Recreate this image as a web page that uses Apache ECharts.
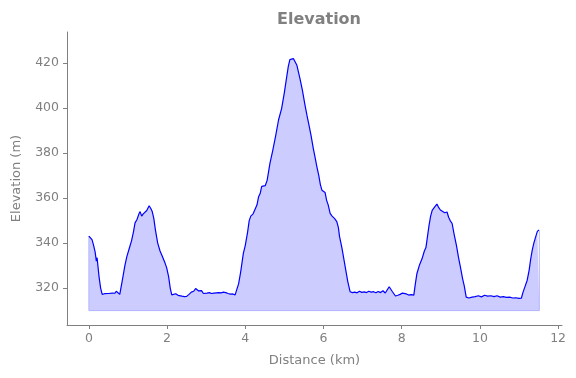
<!DOCTYPE html>
<html>
<head>
    <meta charset="UTF-8">
    <title>Elevation</title>
    <script src="https://cdn.jsdelivr.net/npm/echarts@6/dist/echarts.min.js"></script>
</head>
<body style="margin:0">
<div id="main" style="width:576px;height:378px;"></div>
<script type="text/javascript">
    // distance along the track (km)
    var distances = [0.00, 0.04, 0.08, 0.12, 0.16, 0.19, 0.21, 0.23, 0.26, 0.30, 0.34, 0.40, 0.45, 0.50, 0.55, 0.60, 0.66, 0.70, 0.74, 0.79,
        0.85, 0.92, 0.97, 1.03, 1.09, 1.14, 1.18, 1.23, 1.28, 1.31, 1.35, 1.39, 1.43, 1.48, 1.54, 1.58, 1.62, 1.66, 1.70, 1.76,
        1.82, 1.88, 1.95, 1.99, 2.04, 2.08, 2.12, 2.17, 2.22, 2.28, 2.33, 2.38, 2.44, 2.50, 2.56, 2.62, 2.68, 2.73, 2.76, 2.80,
        2.84, 2.88, 2.93, 2.97, 3.02, 3.08, 3.14, 3.20, 3.26, 3.32, 3.38, 3.44, 3.50, 3.56, 3.62, 3.68, 3.74, 3.78, 3.83, 3.88,
        3.95, 4.00, 4.06, 4.10, 4.14, 4.20, 4.25, 4.30, 4.34, 4.38, 4.42, 4.46, 4.51, 4.56, 4.63, 4.70, 4.78, 4.85, 4.93, 5.00,
        5.06, 5.10, 5.14, 5.19, 5.23, 5.28, 5.32, 5.36, 5.40, 5.46, 5.52, 5.58, 5.62, 5.68, 5.74, 5.78, 5.83, 5.88, 5.92, 5.96,
        6.00, 6.04, 6.08, 6.12, 6.17, 6.22, 6.28, 6.34, 6.38, 6.41, 6.43, 6.47, 6.52, 6.57, 6.62, 6.68, 6.74, 6.80, 6.86, 6.92,
        6.98, 7.04, 7.10, 7.16, 7.22, 7.28, 7.34, 7.40, 7.46, 7.52, 7.58, 7.64, 7.68, 7.72, 7.76, 7.80, 7.84, 7.90, 7.96, 8.02,
        8.06, 8.12, 8.18, 8.24, 8.31, 8.35, 8.39, 8.45, 8.52, 8.58, 8.62, 8.66, 8.70, 8.74, 8.78, 8.84, 8.90, 8.94, 8.99, 9.04,
        9.10, 9.16, 9.20, 9.24, 9.29, 9.34, 9.40, 9.46, 9.50, 9.56, 9.60, 9.65, 9.72, 9.80, 9.88, 9.96, 10.04, 10.12, 10.20, 10.28,
        10.36, 10.44, 10.52, 10.60, 10.68, 10.76, 10.84, 10.92, 11.00, 11.06, 11.10, 11.16, 11.21, 11.26, 11.30, 11.34, 11.38, 11.43, 11.47, 11.51,
        11.52];
    // elevation (m)
    var elevations = [343.1, 343.3, 341.5, 339.0, 336.0, 332.0, 333.5, 330.0, 325.0, 320.0, 317.2, 317.5, 317.8, 317.6, 318.0, 317.8, 317.7, 318.6, 317.9, 317.2,
        323.0, 330.0, 334.0, 337.5, 341.0, 345.0, 349.0, 350.5, 353.0, 354.0, 352.0, 353.0, 353.6, 354.5, 356.6, 355.5, 354.0, 351.0, 346.0, 340.0,
        336.5, 334.0, 331.0, 329.0, 325.0, 320.0, 317.0, 317.3, 317.5, 316.8, 317.2, 316.4, 316.2, 316.3, 317.2, 318.2, 318.6, 319.8, 320.0, 318.8,
        318.0, 318.9, 317.6, 318.3, 317.8, 318.0, 317.6, 317.8, 317.9, 318.0, 317.9, 318.2, 318.0, 317.6, 317.3, 317.4, 317.0, 317.5, 322.0, 327.0,
        335.4, 339.0, 345.0, 350.0, 352.0, 353.0, 353.5, 357.0, 360.6, 362.0, 365.2, 364.8, 365.5, 368.0, 375.4, 381.0, 388.0, 394.7, 399.9, 407.0,
        414.0, 418.5, 421.5, 422.3, 422.0, 421.3, 419.0, 416.0, 413.0, 408.0, 402.0, 396.5, 393.2, 388.0, 382.0, 378.5, 374.0, 370.0, 366.0, 363.5,
        364.3, 362.5, 359.0, 357.0, 353.2, 352.0, 351.0, 349.5, 347.0, 343.0, 341.3, 338.0, 333.0, 328.0, 323.0, 318.4, 318.0, 318.2, 317.9, 318.6,
        318.1, 318.3, 318.0, 318.6, 318.2, 318.4, 317.9, 318.5, 318.0, 318.8, 317.8, 319.5, 320.6, 320.0, 318.5, 319.0, 316.5, 316.8, 317.2, 317.8,
        317.2, 317.4, 316.9, 317.1, 316.9, 322.0, 326.5, 330.0, 333.0, 336.5, 338.0, 343.0, 348.0, 352.0, 354.5, 356.0, 357.3, 356.0, 354.7, 354.3,
        353.5, 353.8, 351.5, 350.0, 348.7, 344.0, 339.0, 333.0, 329.5, 324.0, 321.0, 316.0, 315.6, 316.0, 316.2, 316.6, 316.1, 316.8, 316.4, 316.6,
        316.2, 316.6, 316.0, 316.2, 315.9, 316.0, 315.6, 315.7, 315.4, 315.5, 318.0, 321.0, 323.5, 328.0, 333.0, 337.0, 340.0, 343.0, 345.2, 345.8,
        345.6];
    var baseElevation = 310;
    var xTicks = [0, 2, 4, 6, 8, 10, 12];
    var yTicks = [320, 340, 360, 380, 400, 420];

    var lineData = [];
    for (var i = 0; i < distances.length; i++) {
        lineData.push([distances[i], elevations[i]]);
    }
    var last = distances.length - 1;
    // outline of the filled region (left edge, floor, right edge)
    var edgeData = [
        [distances[0], elevations[0]],
        [distances[0], baseElevation],
        [distances[last], baseElevation],
        [distances[last], elevations[last]]
    ];

    var grey = '#808080';
    var myChart = echarts.init(document.getElementById('main'));
    var option = {
        animation: false,
        title: {
            text: 'Elevation',
            left: 314,
            top: 7,
            textAlign: 'center',
            textStyle: {color: grey, fontSize: 16, fontWeight: 'bold', fontFamily: 'DejaVu Sans'}
        },
        grid: {left: 67, right: 14, top: 32, bottom: 53},
        xAxis: {
            type: 'value',
            min: -0.56,
            max: 12.1,
            name: 'Distance (km)',
            nameLocation: 'middle',
            nameGap: 29,
            nameTextStyle: {color: grey, fontSize: 13, fontFamily: 'DejaVu Sans'},
            axisLine: {onZero: false, lineStyle: {color: grey, width: 1}},
            axisTick: {customValues: xTicks, length: 4, lineStyle: {color: grey}},
            axisLabel: {customValues: xTicks, color: grey, fontSize: 12.5, margin: 7, fontFamily: 'DejaVu Sans'},
            splitLine: {show: false}
        },
        yAxis: {
            type: 'value',
            min: 303.6,
            max: 433.8,
            name: 'Elevation (m)',
            nameLocation: 'middle',
            nameGap: 44,
            nameTextStyle: {color: grey, fontSize: 13, fontFamily: 'DejaVu Sans'},
            axisLine: {show: true, onZero: false, lineStyle: {color: grey, width: 1}},
            axisTick: {show: true, customValues: yTicks, length: 4, lineStyle: {color: grey}},
            axisLabel: {customValues: yTicks, color: grey, fontSize: 12.5, margin: 8, fontFamily: 'DejaVu Sans'},
            splitLine: {show: false}
        },
        series: [
            {
                type: 'line',
                data: edgeData,
                showSymbol: false,
                silent: true,
                lineStyle: {color: '#b3b3ff', width: 1}
            },
            {
                type: 'line',
                data: lineData,
                showSymbol: false,
                lineStyle: {color: '#0000ff', width: 1.2},
                areaStyle: {color: '#ccccff', opacity: 1, origin: baseElevation}
            }
        ]
    };
    myChart.setOption(option);
</script>
</body>
</html>
